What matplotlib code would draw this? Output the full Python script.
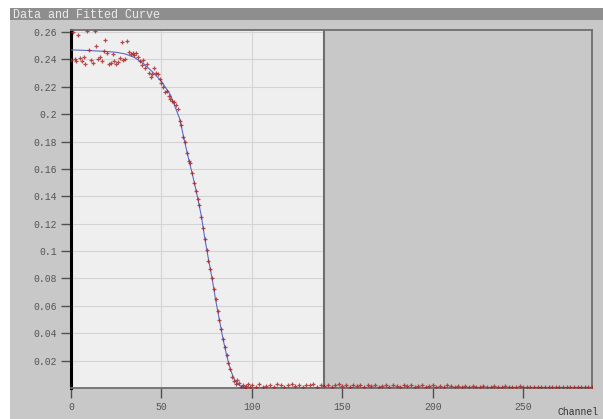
import matplotlib
matplotlib.use("Agg")
import matplotlib.pyplot as plt
from matplotlib.patches import Rectangle

# data points, one per channel 0..99
chan_lo = list(range(100))
data_lo = [0.2395, 0.2600, 0.2405, 0.2390, 0.2575, 0.2410, 0.2385, 0.2420, 0.2365, 0.2610,
           0.2470, 0.2395, 0.2375, 0.2610, 0.2500, 0.2400, 0.2415, 0.2390, 0.2465, 0.2540,
           0.2445, 0.2370, 0.2375, 0.2440, 0.2390, 0.2370, 0.2380, 0.2410, 0.2525, 0.2395,
           0.2400, 0.2535, 0.2455, 0.2440, 0.2450, 0.2430, 0.2445, 0.2420, 0.2390, 0.2360,
           0.2395, 0.2340, 0.2370, 0.2300, 0.2270, 0.2290, 0.2340, 0.2300, 0.2290, 0.2260,
           0.2230, 0.2200, 0.2160, 0.2170, 0.2130, 0.2110, 0.2100, 0.2090, 0.2070, 0.2040,
           0.1950, 0.1920, 0.1830, 0.1800, 0.1720, 0.1660, 0.1640, 0.1570, 0.1500, 0.1440,
           0.1380, 0.1340, 0.1250, 0.1170, 0.1090, 0.1010, 0.0930, 0.0870, 0.0800, 0.0720,
           0.0650, 0.0560, 0.0500, 0.0430, 0.0360, 0.0300, 0.0240, 0.0180, 0.0140, 0.0080,
           0.0050, 0.0030, 0.0060, 0.0040, 0.0010, 0.0025, 0.0000, 0.0015, 0.0030, 0.0005]

# baseline points, every 2 channels 100..288
chan_hi = list(range(100, 289, 2))
data_hi = [0.0020, 0.0010, 0.0030, 0.0005, 0.0015, 0.0025, 0.0010, 0.0030, 0.0020, 0.0010,
           0.0025, 0.0030, 0.0015, 0.0020, 0.0005, 0.0025, 0.0020, 0.0030, 0.0010, 0.0020,
           0.0015, 0.0025, 0.0010, 0.0020, 0.0030, 0.0015, 0.0020, 0.0010, 0.0025, 0.0015,
           0.0020, 0.0010, 0.0025, 0.0015, 0.0020, 0.0010, 0.0015, 0.0025, 0.0010, 0.0020,
           0.0015, 0.0010, 0.0020, 0.0015, 0.0025, 0.0010, 0.0015, 0.0020, 0.0010, 0.0015,
           0.0020, 0.0010, 0.0015, 0.0010, 0.0020, 0.0015, 0.0010, 0.0015, 0.0010, 0.0015,
           0.0010, 0.0015, 0.0010, 0.0010, 0.0015, 0.0010, 0.0010, 0.0015, 0.0010, 0.0010,
           0.0015, 0.0010, 0.0010, 0.0010, 0.0015, 0.0010, 0.0010, 0.0010, 0.0010, 0.0010,
           0.0010, 0.0010, 0.0010, 0.0010, 0.0010, 0.0010, 0.0010, 0.0010, 0.0010, 0.0010,
           0.0010, 0.0010, 0.0010, 0.0010, 0.0010]

# fitted curve
fit_x = [0, 10, 20, 25, 30, 35, 40, 45, 50, 55, 60, 62, 64, 66, 68, 70, 72, 74, 76, 78,
         80, 82, 84, 86, 88, 90, 92, 94, 97, 100, 288]
fit_y = [0.2470, 0.2465, 0.2458, 0.2452, 0.2440, 0.2415, 0.2370, 0.2310, 0.2240, 0.2140,
         0.1970, 0.1850, 0.1730, 0.1620, 0.1510, 0.1390, 0.1260, 0.1090, 0.0940, 0.0800,
         0.0640, 0.0500, 0.0360, 0.0240, 0.0140, 0.0070, 0.0030, 0.0012, 0.0004, 0.0002, 0.0002]

yticks = [0.02, 0.04, 0.06, 0.08, 0.1, 0.12, 0.14, 0.16, 0.18, 0.2, 0.22, 0.24, 0.26]
ytick_labels = ["0.02", "0.04", "0.06", "0.08", "0.1", "0.12", "0.14", "0.16", "0.18",
                "0.2", "0.22", "0.24", "0.26"]
xticks = [0, 50, 100, 150, 200, 250]
fit_end = 140

W, H = 603, 419
font = "Liberation Mono"
fig = plt.figure(figsize=(W / 100, H / 100), dpi=100)
fig.patch.set_facecolor("white")

# grey panel and title bar
fig.add_artist(Rectangle((10 / W, 0), 1, (H - 20) / H, transform=fig.transFigure,
                         facecolor="#c8c8c8", edgecolor="none", zorder=-10))
fig.add_artist(Rectangle((10 / W, (H - 20) / H), 1, 12 / H, transform=fig.transFigure,
                         facecolor="#8e8e8e", edgecolor="none", zorder=-9))
fig.text(13 / W, 1 - 14.5 / H, "Data and Fitted Curve", family=font, fontsize=8.5,
         color="#ececec", va="center", ha="left")

ax = fig.add_axes([71 / W, (H - 388) / H, (592 - 71) / W, (388 - 30) / H])
ax.set_facecolor("#efefef")
ax.set_xlim(0, 288)
ax.set_ylim(0, 0.2615)

ax.set_axisbelow(True)
ax.grid(True, color="#d4d4d4", lw=0.8)
ax.axvspan(fit_end, 288, color="#c8c8c8", zorder=1, lw=0)
ax.axvline(fit_end, color="#6e6e6e", lw=1.5, zorder=1.5)

ax.plot(fit_x, fit_y, color="#5a6ac8", lw=0.8, zorder=3)
ax.plot(chan_lo + chan_hi, data_lo + data_hi, ls="none", marker="+", ms=2.6, mew=0.9,
        color="#a82020", alpha=0.8, zorder=4, clip_on=True)

ax.set_yticks(yticks)
ax.set_yticklabels(ytick_labels)
ax.set_xticks(xticks)
ax.tick_params(direction="out", length=7, width=1, color="#505050", labelcolor="#555555",
               labelsize=7, pad=3)
for lab in ax.get_xticklabels() + ax.get_yticklabels():
    lab.set_family(font)

ax.spines["left"].set_color("black")
ax.spines["left"].set_linewidth(2.2)
for s in ["top", "right", "bottom"]:
    ax.spines[s].set_color("#6e6e6e")
    ax.spines[s].set_linewidth(1.3)

fig.text(558 / W, 1 - 412 / H, "Channel", family=font, fontsize=7, color="#333333",
         va="center", ha="left")

fig.savefig("out.png", dpi=100)
